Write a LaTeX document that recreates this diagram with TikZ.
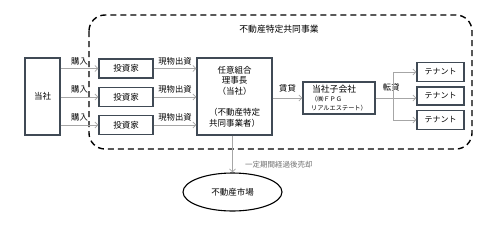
\documentclass[tikz,border=0pt]{standalone}
\usepackage{fontspec}
\setmainfont{Noto Sans CJK JP}
\usetikzlibrary{shapes.geometric,arrows.meta}
\definecolor{boxline}{HTML}{404A55}
\definecolor{flowgray}{HTML}{A6A6A6}
\definecolor{notegray}{HTML}{6E6E6E}

\begin{document}
\begin{tikzpicture}[
    x=1pt, y=-1pt,
    box/.style={rectangle, draw=boxline, line width=1.1pt, inner sep=1pt, font=\fontsize{8.5}{10.5}\selectfont},
    flow/.style={-{Straight Barb[length=3pt,width=6pt]}, flowgray, line width=0.8pt},
    lbl/.style={font=\fontsize{8.3}{10}\selectfont, inner sep=1pt, text=black}
]
    \useasboundingbox (0,0) rectangle (492,225);

    % --- PROJECT FRAME ---
    \draw[line width=1.4pt, dash pattern=on 6pt off 4pt, rounded corners=16pt] (89,15) rectangle (472,149);
    \node at (279,29) [font=\fontsize{8.8}{10}\selectfont] (title) {不動産特定共同事業};

    % --- LEFT SIDE ---
    \node[box, minimum width=35pt, minimum height=77pt] (tosha) at (42.5,96.5) {当社};
    \node[box, minimum width=54pt, minimum height=19pt] (inv1) at (126,68.5) {投資家};
    \node[box, minimum width=54pt, minimum height=19pt] (inv2) at (126,97) {投資家};
    \node[box, minimum width=54pt, minimum height=19pt] (inv3) at (126,125) {投資家};
    \node[box, minimum width=75pt, minimum height=77pt, align=center, font=\fontsize{8.5}{10.6}\selectfont] (kumiai) at (234.5,96.5)
        {任意組合\\理事長\\（当社）\\[10.6pt]（不動産特定\\共同事業者）};

    \draw[flow] (tosha.east |- inv1) -- node[lbl, above=2pt] {購入} (inv1.west);
    \draw[flow] (tosha.east |- inv2) -- node[lbl, above=2pt] {購入} (inv2.west);
    \draw[flow] (tosha.east |- inv3) -- node[lbl, above=2pt] {購入} (inv3.west);

    \draw[flow] (inv1.east) -- node[lbl, above=2pt] {現物出資} (kumiai.west |- inv1);
    \draw[flow] (inv2.east) -- node[lbl, above=2pt] {現物出資} (kumiai.west |- inv2);
    \draw[flow] (inv3.east) -- node[lbl, above=2pt] {現物出資} (kumiai.west |- inv3);

    % --- RIGHT SIDE ---
    \node[box, minimum width=72pt, minimum height=32pt, align=left] (kogaisha) at (339,98)
        {\fontsize{8.8}{10}\selectfont\hspace*{1pt}当社子会社\\[-1pt]
         {\fontsize{6.2}{8}\selectfont （㈱ＦＰＧ}\\[-2pt]
         {\fontsize{6.2}{8}\selectfont リアルエステート）}};
    \node[box, minimum width=47pt, minimum height=19pt, font=\fontsize{8}{10}\selectfont] (ten1) at (440.5,72) {テナント};
    \node[box, minimum width=47pt, minimum height=18pt, font=\fontsize{8}{10}\selectfont] (ten2) at (440.5,96) {テナント};
    \node[box, minimum width=47pt, minimum height=19pt, font=\fontsize{8}{10}\selectfont] (ten3) at (440.5,120) {テナント};
    \coordinate (split) at (393,98);

    \draw[flow] (kumiai.east |- kogaisha) -- node[lbl, above=4pt] {賃貸} (kogaisha.west);
    \draw[flowgray, line width=0.8pt] (kogaisha.east) -- node[lbl, above=5pt, pos=0.9] {転貸} (split);
    \draw[flow] (split) -- (ten2.west |- split);
    \draw[flow] (split) |- (ten1.west);
    \draw[flow] (split) |- (ten3.west);

    % --- SALE ---
    \node[ellipse, draw, line width=1.1pt, minimum width=99pt, minimum height=38pt, font=\fontsize{8.5}{10}\selectfont] (market) at (232.5,192) {不動産市場};
    \draw[flow] (kumiai.south -| market) -- node[pos=0.78, anchor=west, xshift=9pt, font=\fontsize{7.5}{9}\selectfont, text=notegray] {一定期間経過後売却} (market.north);
\end{tikzpicture}
\end{document}
